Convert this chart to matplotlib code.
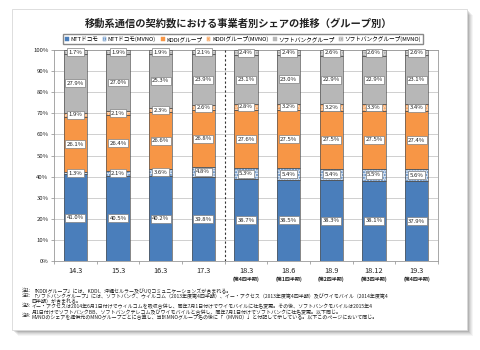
import numpy as np
import matplotlib
matplotlib.use("Agg")
import matplotlib.pyplot as plt
from matplotlib.patches import Rectangle, Patch
import matplotlib.transforms as mtransforms

plt.rcParams['font.family'] = ['Noto Sans CJK JP', 'DejaVu Sans']

# data
periods = ["14.3", "15.3", "16.3", "17.3", "18.3", "18.6", "18.9", "18.12", "19.3"]
quarters = ["", "", "", "", "(第4四半期)", "(第1四半期)", "(第2四半期)", "(第3四半期)", "(第4四半期)"]
series_names = ["NTTドコモ", "NTTドコモ(MVNO)", "KDDIグループ", "KDDIグループ(MVNO)",
                "ソフトバンクグループ", "ソフトバンクグループ(MVNO)"]
ntt = [41.0, 40.5, 40.2, 39.8, 38.7, 38.5, 38.3, 38.1, 37.9]
ntt_mvno = [1.3, 2.1, 3.6, 4.8, 5.3, 5.4, 5.4, 5.5, 5.6]
kddi = [26.1, 26.4, 26.6, 26.8, 27.6, 27.5, 27.5, 27.5, 27.4]
kddi_mvno = [1.9, 2.1, 2.3, 2.6, 2.8, 3.2, 3.2, 3.3, 3.4]
sb = [27.9, 27.0, 25.3, 23.9, 23.1, 23.0, 22.9, 22.9, 23.1]
sb_mvno = [1.7, 1.9, 1.9, 2.1, 2.4, 2.4, 2.6, 2.6, 2.6]

title = "移動系通信の契約数における事業者別シェアの推移（グループ別）"
note_heads = ["注1:", "注2:", "", "注3:", "", "注4:"]
note_lines = [
    "「KDDIグループ」には、KDDI、沖縄セルラー及びUQコミュニケーションズが含まれる。",
    "「ソフトバンクグループ」には、ソフトバンク、ウィルコム（2013年度第4四半期）、イー・アクセス（2013年度第4四半期）及びワイモバイル（2014年度第4",
    "四半期）が含まれる。",
    "イー・アクセスは2014年6月1日付けでウィルコムを吸収合併し、同年7月1日付けでワイモバイルに社名変更。その後、ソフトバンクモバイルは2015年4",
    "月1日付けでソフトバンクBB、ソフトバンクテレコム及びワイモバイルと合併し、同年7月1日付けでソフトバンクに社名変更。以下同じ。",
    "MVNOのシェアを提供元のMNOグループごとに合算し、当該MNOグループ名の後に「（MVNO）」と付記して示している。以下このページにおいて同じ。",
]

series = [ntt, ntt_mvno, kddi, kddi_mvno, sb, sb_mvno]
# (face, hatch colour or None)
styles = [("#4a7ebb", None), ("#dbe5f1", "#4a7ebb"),
          ("#f79646", None), ("#fcd5b4", "#f79646"),
          ("#b7b7b7", None), ("#d9d9d9", "#a0a0a0")]

fig = plt.figure(figsize=(4.8, 3.5), dpi=100)
W, H = 480.0, 350.0

# page frame with soft shadow
for k, a in enumerate([0.10, 0.08, 0.06, 0.05, 0.04]):
    off = k + 1.5
    fig.patches.append(Rectangle((12 / W + off / W, 1 - 330 / H - off / H),
                                 455 / W, 321 / H, transform=fig.transFigure,
                                 facecolor="black", alpha=a, lw=0, zorder=0))
fig.patches.append(Rectangle((12 / W, 1 - 330 / H), 455 / W, 321 / H,
                             transform=fig.transFigure, facecolor="white",
                             edgecolor="#d8d8d8", lw=0.6, zorder=1))

ax = fig.add_axes([54 / W, 1 - 261 / H, 384 / W, 211 / H])
ax.set_zorder(2)
x = np.arange(len(periods))
width = 0.54
bottom = np.zeros(len(periods))
for vals, (face, hc) in zip(series, styles):
    vals = np.array(vals)
    if hc is None:
        ax.bar(x, vals, width, bottom=bottom, color=face, lw=0, zorder=2)
    else:
        ax.bar(x, vals, width, bottom=bottom, color=face, edgecolor=hc,
               hatch="......", lw=0, zorder=2)
    ax.bar(x, vals, width, bottom=bottom, fill=False, edgecolor="#555555",
           lw=0.5, zorder=3)
    for xi, b, v in zip(x, bottom, vals):
        ax.text(xi, b + v / 2, f"{v:.1f}%", ha="center", va="center",
                fontsize=4.3, color="#222222", zorder=5,
                bbox=dict(boxstyle="square,pad=0.25", fc="white",
                          ec="#808080", lw=0.5))
    bottom += vals

ax.axvline(3.5, color="#333333", lw=0.8, ls=(0, (2, 2)), zorder=4)

ax.set_xlim(-0.5, len(periods) - 0.5)
ax.set_ylim(0, 100)
ax.set_yticks(np.arange(0, 101, 10))
ax.set_yticklabels([f"{v}%" for v in range(0, 101, 10)], fontsize=4.3,
                   color="#222222")
ax.yaxis.grid(True, color="#c8c8c8", lw=0.6, zorder=0)
ax.set_axisbelow(True)
ax.tick_params(axis="y", length=2, width=0.5, color="#888888", pad=2)
ax.set_xticks(x)
ax.set_xticklabels(periods, fontsize=5.3, color="#222222")
ax.set_xticks(np.arange(-0.5, len(periods), 1), minor=True)
ax.tick_params(axis="x", which="major", length=0, pad=4)
ax.tick_params(axis="x", which="minor", length=2, width=0.5, color="#888888")
for s in ax.spines.values():
    s.set_color("#999999")
    s.set_linewidth(0.6)

trans = mtransforms.blended_transform_factory(ax.transData, ax.transAxes)
for xi, q in zip(x, quarters):
    if q:
        ax.text(xi, -0.075, q, transform=trans, ha="center", va="top",
                fontsize=3.6, fontweight="bold", color="#222222")

handles = [Patch(facecolor=f, edgecolor=(h if h else f),
                 hatch=("......" if h else None), lw=0.3)
           for f, h in styles]
fig.legend(handles, series_names, loc="center", ncol=6,
           bbox_to_anchor=(243 / W, 1 - 39 / H), fontsize=4.1,
           handlelength=0.6, handleheight=0.6, handletextpad=0.25,
           columnspacing=0.9, borderpad=0.3, fancybox=False,
           edgecolor="#888888", framealpha=1)

fig.text(239 / W, 1 - 23 / H, title, ha="center", va="center",
         fontsize=7.4, fontweight="bold", color="#222222", zorder=3)

# notes, one block for the heads and one for the text
fig.text(22 / W, 1 - 288 / H, "\n".join(note_heads), ha="left", va="top",
         fontsize=3.6, linespacing=1.0, color="#222222", zorder=3)
fig.text(31.5 / W, 1 - 288 / H, "\n".join(note_lines), ha="left", va="top",
         fontsize=3.6, linespacing=1.0, color="#222222", zorder=3)

fig.savefig("out.png", dpi=100, facecolor="white")
